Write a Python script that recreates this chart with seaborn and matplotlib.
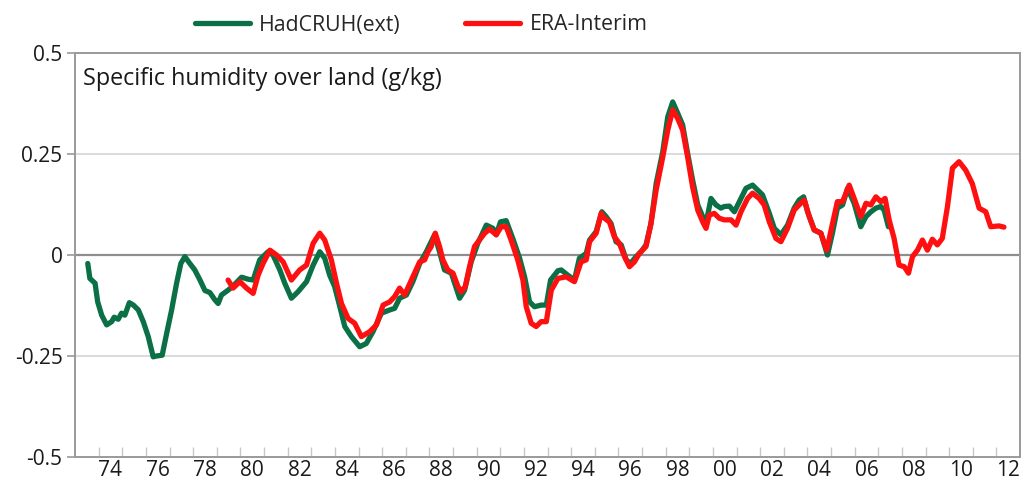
import numpy as np
import pandas as pd
import matplotlib
matplotlib.use("Agg")
import matplotlib.pyplot as plt
import seaborn as sns
from matplotlib.ticker import FixedLocator, NullFormatter

sns.set_style("white")
plt.rcParams['font.family'] = ['Open Sans', 'DejaVu Sans']

# 12-month running means (year, g/kg)
hadcruh_year = [1973.54, 1973.63, 1973.85, 1973.96, 1974.13, 1974.34, 1974.55, 1974.66, 1974.83, 1974.97,
                1975.11, 1975.30, 1975.47, 1975.68, 1975.89, 1976.10, 1976.31, 1976.45, 1976.69, 1976.88,
                1977.09, 1977.30, 1977.48, 1977.65, 1977.86, 1978.07, 1978.29, 1978.50, 1978.71, 1978.92,
                1979.06, 1979.20, 1979.48, 1979.69, 1980.05, 1980.33, 1980.54, 1980.82, 1981.17, 1981.38,
                1981.67, 1981.88, 1982.16, 1982.44, 1982.80, 1983.08, 1983.36, 1983.57, 1983.78, 1983.99,
                1984.21, 1984.42, 1984.70, 1985.05, 1985.33, 1985.61, 1985.97, 1986.32, 1986.53, 1986.74,
                1987.03, 1987.30, 1987.59, 1987.87, 1988.22, 1988.43, 1988.64, 1988.93, 1989.28, 1989.49,
                1989.77, 1990.05, 1990.41, 1990.69, 1990.83, 1991.01, 1991.25, 1991.53, 1991.82, 1992.03,
                1992.24, 1992.45, 1992.73, 1992.95, 1993.13, 1993.44, 1993.58, 1993.86, 1994.14, 1994.35,
                1994.64, 1994.78, 1995.06, 1995.30, 1995.48, 1995.69, 1995.90, 1996.12, 1996.33, 1996.51,
                1996.75, 1996.96, 1997.17, 1997.38, 1997.60, 1997.88, 1998.09, 1998.30, 1998.51, 1998.72,
                1998.93, 1999.14, 1999.36, 1999.57, 1999.71, 1999.92, 2000.13, 2000.34, 2000.48, 2000.70,
                2000.91, 2001.12, 2001.40, 2001.68, 2001.89, 2002.10, 2002.39, 2002.60, 2002.88, 2003.16,
                2003.44, 2003.65, 2003.84, 2004.01, 2004.29, 2004.57, 2004.85, 2005.06, 2005.27, 2005.49,
                2005.70, 2005.98, 2006.26, 2006.48, 2006.69, 2006.90, 2007.11, 2007.25, 2007.43]
hadcruh_q = [-0.021, -0.058, -0.070, -0.116, -0.149, -0.173, -0.165, -0.154, -0.159, -0.144,
             -0.149, -0.118, -0.124, -0.136, -0.165, -0.202, -0.252, -0.250, -0.248, -0.194,
             -0.136, -0.070, -0.021, -0.004, -0.021, -0.037, -0.062, -0.088, -0.093, -0.111,
             -0.120, -0.099, -0.087, -0.077, -0.055, -0.060, -0.062, -0.012, 0.008, 0.000,
             -0.037, -0.070, -0.107, -0.091, -0.066, -0.025, 0.008, -0.008, -0.050, -0.078,
             -0.128, -0.177, -0.202, -0.227, -0.219, -0.190, -0.144, -0.136, -0.132, -0.107,
             -0.099, -0.066, -0.021, 0.008, 0.050, 0.008, -0.037, -0.045, -0.107, -0.087,
             -0.017, 0.029, 0.074, 0.066, 0.050, 0.082, 0.085, 0.041, -0.008, -0.054,
             -0.116, -0.128, -0.124, -0.124, -0.062, -0.039, -0.037, -0.050, -0.062, -0.008,
             0.004, 0.037, 0.058, 0.107, 0.095, 0.078, 0.033, 0.025, -0.012, -0.021,
             -0.004, 0.008, 0.025, 0.078, 0.177, 0.256, 0.342, 0.379, 0.351, 0.322,
             0.252, 0.186, 0.124, 0.095, 0.078, 0.140, 0.124, 0.116, 0.120, 0.121,
             0.107, 0.132, 0.165, 0.173, 0.161, 0.149, 0.103, 0.066, 0.050, 0.074,
             0.116, 0.136, 0.144, 0.107, 0.062, 0.054, 0.000, 0.054, 0.116, 0.124,
             0.165, 0.128, 0.070, 0.095, 0.107, 0.116, 0.120, 0.111, 0.070]

era_year = [1979.48, 1979.69, 1979.98, 1980.26, 1980.54, 1980.75, 1980.96, 1981.25, 1981.53, 1981.81,
            1982.16, 1982.51, 1982.80, 1983.08, 1983.36, 1983.57, 1983.85, 1984.07, 1984.28, 1984.56,
            1984.84, 1985.12, 1985.47, 1985.76, 1986.04, 1986.32, 1986.53, 1986.74, 1986.95, 1987.24,
            1987.59, 1987.80, 1987.94, 1988.08, 1988.25, 1988.43, 1988.57, 1988.78, 1989.00, 1989.21,
            1989.35, 1989.52, 1989.70, 1989.91, 1990.12, 1990.34, 1990.55, 1990.83, 1991.04, 1991.25,
            1991.46, 1991.74, 1991.96, 1992.10, 1992.31, 1992.52, 1992.73, 1992.95, 1993.16, 1993.44,
            1993.79, 1994.14, 1994.42, 1994.64, 1994.78, 1995.06, 1995.27, 1995.41, 1995.62, 1995.83,
            1996.04, 1996.26, 1996.47, 1996.68, 1996.89, 1997.17, 1997.38, 1997.60, 1997.88, 1998.09,
            1998.30, 1998.51, 1998.72, 1998.93, 1999.14, 1999.36, 1999.57, 1999.71, 1999.85, 2000.06,
            2000.27, 2000.48, 2000.77, 2000.98, 2001.19, 2001.47, 2001.68, 2001.96, 2002.17, 2002.39,
            2002.67, 2002.88, 2003.16, 2003.44, 2003.65, 2003.87, 2004.08, 2004.29, 2004.57, 2004.82,
            2005.02, 2005.27, 2005.49, 2005.77, 2005.98, 2006.26, 2006.48, 2006.69, 2006.90, 2007.11,
            2007.29, 2007.46, 2007.67, 2007.88, 2008.10, 2008.28, 2008.45, 2008.66, 2008.87, 2009.08,
            2009.29, 2009.50, 2009.71, 2009.93, 2010.14, 2010.42, 2010.70, 2010.98, 2011.27, 2011.55,
            2011.76, 2012.11, 2012.32]
era_q = [-0.062, -0.082, -0.066, -0.082, -0.095, -0.050, -0.021, 0.012, 0.000, -0.017,
         -0.062, -0.037, -0.025, 0.029, 0.054, 0.037, -0.012, -0.070, -0.120, -0.157,
         -0.169, -0.202, -0.190, -0.173, -0.124, -0.116, -0.103, -0.082, -0.099, -0.062,
         -0.017, -0.012, 0.008, 0.021, 0.054, 0.021, -0.012, -0.037, -0.045, -0.078,
         -0.091, -0.078, -0.029, 0.021, 0.037, 0.054, 0.064, 0.050, 0.070, 0.070,
         0.037, -0.012, -0.062, -0.128, -0.169, -0.177, -0.165, -0.165, -0.087, -0.058,
         -0.054, -0.066, -0.017, -0.012, 0.033, 0.054, 0.103, 0.091, 0.082, 0.045,
         0.029, -0.004, -0.029, -0.017, 0.004, 0.021, 0.078, 0.161, 0.243, 0.309,
         0.359, 0.338, 0.309, 0.243, 0.169, 0.111, 0.082, 0.066, 0.099, 0.103,
         0.091, 0.087, 0.087, 0.074, 0.107, 0.140, 0.153, 0.140, 0.124, 0.082,
         0.041, 0.033, 0.066, 0.111, 0.124, 0.136, 0.095, 0.062, 0.054, 0.012,
         0.066, 0.132, 0.132, 0.173, 0.140, 0.095, 0.128, 0.124, 0.144, 0.132,
         0.140, 0.087, 0.041, -0.025, -0.029, -0.045, -0.004, 0.012, 0.037, 0.012,
         0.039, 0.025, 0.041, 0.120, 0.215, 0.231, 0.210, 0.177, 0.116, 0.107,
         0.070, 0.072, 0.069]

y_ticks = [0.5, 0.25, 0, -0.25, -0.5]
y_labels = ['0.5', '0.25', '0', '-0.25', '-0.5']
label_years = list(range(1974, 2013, 2))
x_labels = [f"{y % 100:02d}" for y in label_years]

green = '#0b7045'
red = '#ff1010'
gray = '#9a9a9a'

fig = plt.figure(figsize=(10.24, 4.82), dpi=100)
ax = fig.add_axes([75 / 1024, 1 - 457 / 482, 945 / 1024, 404 / 482])

had_df = pd.DataFrame({'year': hadcruh_year, 'q': hadcruh_q})
era_df = pd.DataFrame({'year': era_year, 'q': era_q})

# grid lines first so the series sit on top
for yv in (0.25, -0.25):
    ax.axhline(yv, color='#d4d4d4', lw=1.2, zorder=1)
ax.axhline(0, color='#8e8e8e', lw=1.6, zorder=1)

sns.lineplot(data=had_df, x='year', y='q', ax=ax, color=green, lw=3.8,
             label='HadCRUH(ext)', zorder=3, solid_joinstyle='round', solid_capstyle='round')
sns.lineplot(data=era_df, x='year', y='q', ax=ax, color=red, lw=3.8,
             label='ERA-Interim', zorder=4, solid_joinstyle='round', solid_capstyle='round')

ax.set_xlim(1973, 2013)
ax.set_ylim(-0.5, 0.5)
ax.set_xlabel('')
ax.set_ylabel('')

ax.set_yticks(y_ticks)
ax.set_yticklabels(y_labels, fontsize=15, color='#1a1a1a')
ax.tick_params(axis='y', direction='out', length=6, width=1.2, color=gray, pad=3, left=True)

ax.set_xticks([y + 0.5 for y in label_years])
ax.set_xticklabels(x_labels, fontsize=15, color='#1a1a1a')
ax.xaxis.set_minor_locator(FixedLocator(list(range(1974, 2013))))
ax.xaxis.set_minor_formatter(NullFormatter())
ax.tick_params(axis='x', which='major', length=0, pad=2)
ax.tick_params(axis='x', which='minor', direction='in', length=7, width=1, color='#c8c8c8', bottom=True)

for side in ['left', 'right', 'top', 'bottom']:
    ax.spines[side].set_color(gray)
    ax.spines[side].set_linewidth(1.4)

ax.text(0.0085, 0.935, 'Specific humidity over land (g/kg)', transform=ax.transAxes,
        fontsize=16.8, color='#1a1a1a', va='center', ha='left')

ax.get_legend().remove()
handles, labels = ax.get_legend_handles_labels()
fig.legend(handles, labels, loc='center', bbox_to_anchor=(421 / 1024, 1 - 25 / 482), ncol=2,
           frameon=False, fontsize=15.3, handlelength=2.6, handletextpad=0.45, columnspacing=3.0)

fig.savefig('out.png', dpi=100)
